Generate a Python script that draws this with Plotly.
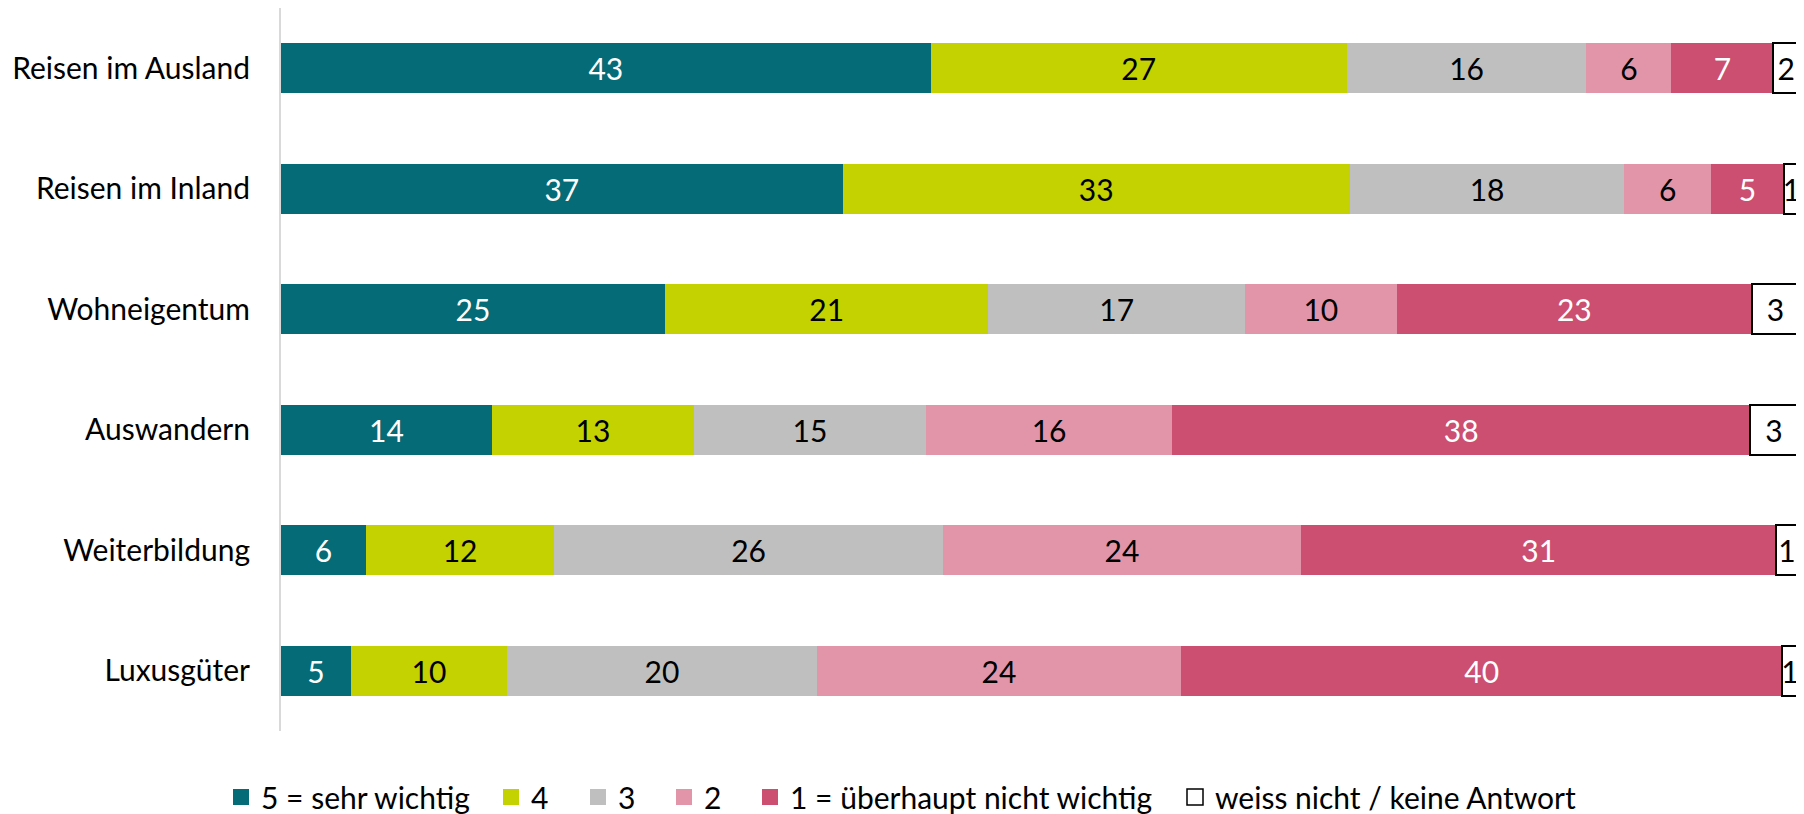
import plotly.graph_objects as go

categories = ["Reisen im Ausland", "Reisen im Inland", "Wohneigentum",
              "Auswandern", "Weiterbildung", "Luxusgüter"]
series_names = ["5 = sehr wichtig", "4", "3", "2",
                "1 = überhaupt nicht wichtig", "weiss nicht / keine Antwort"]

v5 = [42.8, 37.0, 25.3, 13.9, 5.6, 4.6]
v4 = [27.4, 33.4, 21.3, 13.3, 12.4, 10.3]
v3 = [15.8, 18.1, 16.9, 15.3, 25.6, 20.4]
v2 = [5.6, 5.7, 10.0, 16.2, 23.6, 24.0]
v1 = [6.7, 4.8, 23.4, 38.1, 31.3, 39.6]
vna = [1.7, 1.0, 3.1, 3.1, 1.4, 1.0]

series_values = [v5, v4, v3, v2, v1, vna]
colors = ["#046B77", "#C3D200", "#BFBFBF", "#E295A8", "#CC4E70", "#FFFFFF"]
text_colors = ["white", "black", "black", "black", "white", "black"]
line_widths = [0, 0, 0, 0, 0, 2]

FONT = "Lato, Carlito, Calibri, sans-serif"
FS = 30
# page body has an 8px margin, so the figure is drawn 8px smaller
OFF = 8
W, H = 1804 - OFF, 814 - OFF

fig = go.Figure()

for name, vals, col, tc, lw in zip(series_names, series_values, colors, text_colors, line_widths):
    fig.add_trace(go.Bar(
        y=categories, x=vals, name=name, orientation="h",
        marker=dict(color=col, line=dict(color="black", width=lw)),
        texttemplate="%{x:.0f}", textposition="inside",
        insidetextanchor="middle", textangle=0,
        textfont=dict(family=FONT, size=FS, color=tc),
        constraintext="none",
        showlegend=False, hoverinfo="skip",
    ))

# legend entries (one legend per entry, placed like the original)
legend_centers_px = [242, 512, 599, 685, 771, 1196]
legend_ids = ["legend", "legend2", "legend3", "legend4", "legend5", "legend6"]
for name, col, lw, lid in zip(series_names, colors, line_widths, legend_ids):
    fig.add_trace(go.Scatter(
        x=[None], y=[None], mode="markers", name=name, legend=lid,
        marker=dict(symbol="square", size=16, color=col,
                    line=dict(color="black", width=1.5 if lw else 0)),
        showlegend=True, hoverinfo="skip",
    ))

layout_legends = {}
for lid, cx in zip(legend_ids, legend_centers_px):
    layout_legends[lid] = dict(
        orientation="h", xref="container", yref="container",
        x=(cx - OFF - 21) / W, y=1 - (797 - OFF) / H,
        xanchor="left", yanchor="middle",
        font=dict(family=FONT, size=FS, color="black"),
        bgcolor="rgba(0,0,0,0)", borderwidth=0,
        itemclick=False, itemdoubleclick=False,
    )

fig.update_layout(
    width=W, height=H,
    barmode="stack", bargap=0.585,
    plot_bgcolor="white", paper_bgcolor="white",
    margin=dict(l=281 - OFF, r=5, t=0, b=83, autoexpand=False),
    font=dict(family=FONT, size=FS, color="black"),
    uniformtext=dict(mode="show", minsize=FS),
    xaxis=dict(range=[0, 100], visible=False, fixedrange=True),
    yaxis=dict(type="category", autorange="reversed",
               showline=True, linecolor="#D9D9D9", linewidth=2,
               ticks="", showgrid=False, zeroline=False,
               ticklabelstandoff=23,
               tickfont=dict(family=FONT, size=FS, color="black"),
               fixedrange=True),
    **layout_legends,
)

fig.write_html("out.html")
